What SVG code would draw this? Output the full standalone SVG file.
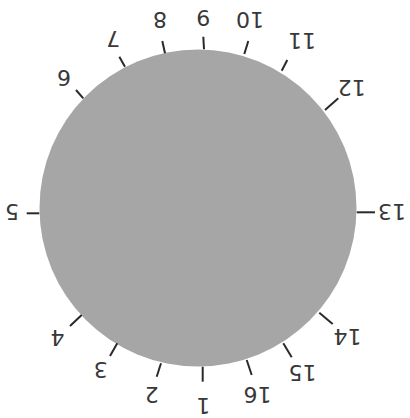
<svg xmlns="http://www.w3.org/2000/svg" width="410" height="418" viewBox="0 0 410 418">
<style>
.tick{stroke:#2a2a2a;stroke-width:2;stroke-linecap:butt}
.lbl{font-family:"DejaVu Sans","Liberation Sans",sans-serif;font-size:22px;fill:#383838;text-anchor:middle}
</style>
<rect width="410" height="418" fill="#fff"/>
<g id="disc"><circle cx="198" cy="208" r="158.5" fill="#a6a6a6"/></g>
<g id="connectors">
<line class="tick" x1="202.7" y1="366.7" x2="202.7" y2="381.7"/>
<line class="tick" x1="161" y1="363.3" x2="156.7" y2="376.7"/>
<line class="tick" x1="117.3" y1="343.3" x2="110" y2="356"/>
<line class="tick" x1="81.7" y1="315" x2="70" y2="326"/>
<line class="tick" x1="39.3" y1="213.3" x2="26.7" y2="213.3"/>
<line class="tick" x1="83.3" y1="98.3" x2="76" y2="90"/>
<line class="tick" x1="125" y1="66.7" x2="119.3" y2="56.7"/>
<line class="tick" x1="165" y1="53.3" x2="162.3" y2="41"/>
<line class="tick" x1="204" y1="49.3" x2="203.3" y2="36.7"/>
<line class="tick" x1="244.3" y1="54" x2="248.3" y2="41"/>
<line class="tick" x1="281.7" y1="70.7" x2="287.3" y2="60"/>
<line class="tick" x1="325" y1="110" x2="338.3" y2="98.3"/>
<line class="tick" x1="356.7" y1="212.3" x2="375" y2="212.3"/>
<line class="tick" x1="319.3" y1="312.7" x2="332.7" y2="324"/>
<line class="tick" x1="283.3" y1="343.3" x2="291.7" y2="357.3"/>
<line class="tick" x1="246.7" y1="360" x2="251.7" y2="375"/>
</g>
<g id="n1"><text class="lbl" x="203.3" y="413.8" transform="rotate(180 203.3 405.8)">1</text></g>
<g id="n2"><text class="lbl" x="151.7" y="403" transform="rotate(180 151.7 395)">2</text></g>
<g id="n3"><text class="lbl" x="100.8" y="378" transform="rotate(180 100.8 370)">3</text></g>
<g id="n4"><text class="lbl" x="57.5" y="345.5" transform="rotate(180 57.5 337.5)">4</text></g>
<g id="n5"><text class="lbl" x="12" y="220" transform="rotate(180 12 212)">5</text></g>
<g id="n6"><text class="lbl" x="64" y="85.5" transform="rotate(180 64 77.5)">6</text></g>
<g id="n7"><text class="lbl" x="113.3" y="47" transform="rotate(180 113.3 39)">7</text></g>
<g id="n8"><text class="lbl" x="160" y="28" transform="rotate(180 160 20)">8</text></g>
<g id="n9"><text class="lbl" x="203.3" y="26" transform="rotate(180 203.3 18)">9</text></g>
<g id="n10"><text class="lbl" x="250" y="28" transform="rotate(180 250 20)">10</text></g>
<g id="n11"><text class="lbl" x="302" y="49" transform="rotate(180 302 41)">11</text></g>
<g id="n12"><text class="lbl" x="351.7" y="96.3" transform="rotate(180 351.7 88.3)">12</text></g>
<g id="n13"><text class="lbl" x="392" y="219.7" transform="rotate(180 392 211.7)">13</text></g>
<g id="n14"><text class="lbl" x="347.5" y="344.7" transform="rotate(180 347.5 336.7)">14</text></g>
<g id="n15"><text class="lbl" x="302.5" y="381.3" transform="rotate(180 302.5 373.3)">15</text></g>
<g id="n16"><text class="lbl" x="257.5" y="403" transform="rotate(180 257.5 395)">16</text></g>
</svg>
